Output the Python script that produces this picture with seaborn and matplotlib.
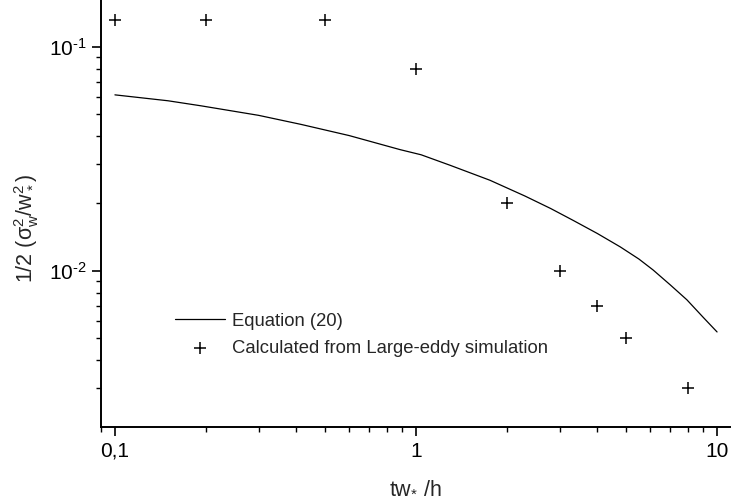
import numpy as np
import pandas as pd
import matplotlib
matplotlib.use("Agg")
import matplotlib.pyplot as plt
import matplotlib.ticker as mticker
import seaborn as sns

# Equation (20) curve
eq_t = [0.1, 0.15, 0.193, 0.3, 0.415, 0.6, 0.885, 1.04, 1.3, 1.76, 2.3, 2.8,
        3.33, 4.0, 4.77, 5.5, 6.13, 7.0, 7.94, 9.0, 10.0]
eq_y = [0.0611, 0.0575, 0.0546, 0.0495, 0.0451, 0.0402, 0.0348, 0.0330, 0.0296,
        0.0254, 0.0216, 0.0190, 0.0168, 0.0147, 0.0128, 0.0113, 0.0101, 0.00865,
        0.00743, 0.0062, 0.00534]

# Large-eddy simulation points
les_t = [0.1, 0.2, 0.5, 1.0, 2.0, 3.0, 4.0, 5.0, 8.0]
les_y = [0.132, 0.132, 0.132, 0.080, 0.020, 0.010, 0.007, 0.005, 0.003]

x_ticks = [0.1, 1, 10]
x_ticklabels = ["0,1", "1", "10"]
y_ticks = [0.01, 0.1]
y_ticklabels = [r"$\mathregular{10^{\text{-}2}}$", r"$\mathregular{10^{\text{-}1}}$"]

sns.set_theme(style="ticks")
plt.rcParams["font.family"] = ["Liberation Sans", "DejaVu Sans"]
plt.rcParams["mathtext.fontset"] = "custom"
plt.rcParams["mathtext.rm"] = "Liberation Sans"
plt.rcParams["mathtext.it"] = "Liberation Sans:italic"
plt.rcParams["mathtext.bf"] = "Liberation Sans:bold"
plt.rcParams["axes.unicode_minus"] = False

fig = plt.figure(figsize=(7.36, 5.04), dpi=100)
ax = fig.add_axes([101 / 736, 77 / 504, 629 / 736, 427 / 504])

eq_df = pd.DataFrame({"t": eq_t, "y": eq_y})
les_df = pd.DataFrame({"t": les_t, "y": les_y})

sns.lineplot(data=eq_df, x="t", y="y", ax=ax, color="black", linewidth=0.9,
             label="Equation (20)", sort=True, estimator=None)
sns.scatterplot(data=les_df, x="t", y="y", ax=ax, marker="+", s=65, color="black",
                linewidth=1.1, label="Calculated from Large-eddy simulation")

ax.set_xscale("log")
ax.set_yscale("log")
ax.set_xlim(0.0899, 11.04)
ax.set_ylim(0.00201, 0.162)

ax.xaxis.set_major_locator(mticker.FixedLocator(x_ticks))
ax.xaxis.set_major_formatter(mticker.FixedFormatter(x_ticklabels))
ax.xaxis.set_minor_locator(mticker.LogLocator(base=10, subs=np.arange(2, 10)))
ax.xaxis.set_minor_formatter(mticker.NullFormatter())
ax.yaxis.set_major_locator(mticker.FixedLocator(y_ticks))
ax.yaxis.set_major_formatter(mticker.FixedFormatter(y_ticklabels))
ax.yaxis.set_minor_locator(mticker.LogLocator(base=10, subs=np.arange(2, 10)))
ax.yaxis.set_minor_formatter(mticker.NullFormatter())

for s in ["top", "right"]:
    ax.spines[s].set_visible(False)
for s in ["left", "bottom"]:
    ax.spines[s].set_linewidth(1.4)
    ax.spines[s].set_color("black")

ax.tick_params(which="major", direction="out", length=6.5, width=1.2, colors="black",
               labelsize=15, pad=4)
ax.tick_params(which="minor", direction="out", length=3.6, width=1.0, colors="black")

ax.set_xlabel(r"tw$_{\mathregular{*}}$ /h", fontsize=15.5, labelpad=12)
ax.set_ylabel(r"1/2 ($\mathregular{\sigma_w^2/w_*^2}$)", fontsize=15.5)
ax.yaxis.set_label_coords(-0.095, 0.464)

leg = ax.legend(loc="upper left", frameon=False, fontsize=13.3,
                handlelength=2.7, handletextpad=0.4, labelspacing=0.55, borderpad=0.2)
leg.set_bbox_to_anchor((162 / 736, (504 - 300) / 504), transform=fig.transFigure)

fig.savefig("out.png", dpi=100, facecolor="white")
